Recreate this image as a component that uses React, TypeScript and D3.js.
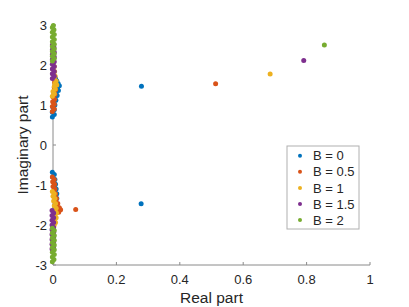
import * as d3 from "d3";

const seriesNames = ["B = 0", "B = 0.5", "B = 1", "B = 1.5", "B = 2"];
const seriesColors = ["#0072BD", "#D95319", "#EDB120", "#7E2F8E", "#77AC30"];

const b0: [number, number][] = [
  [-0.002, 0.7], [0.004, 0.76], [-0.002, 0.82], [0.004, 0.88], [0.0, 0.94], [0.006, 1.0],
  [0.003, 1.06], [0.009, 1.12], [0.006, 1.18], [0.013, 1.24], [0.01, 1.3], [0.017, 1.36],
  [0.014, 1.42], [0.02, 1.48], [0.016, 1.54], [0.012, 1.6], [0.008, 1.66],
  [0.279, 1.467],
  [-0.002, -0.68], [0.004, -0.74], [-0.001, -0.8], [0.006, -0.86], [0.002, -0.92], [0.008, -0.98],
  [0.004, -1.04], [0.01, -1.1], [0.006, -1.16], [0.012, -1.22], [0.008, -1.28], [0.012, -1.34],
  [0.007, -1.4], [0.01, -1.46], [0.005, -1.52], [0.008, -1.58],
  [0.278, -1.467],
];
const b05: [number, number][] = [
  [-0.002, 0.84], [0.004, 0.9], [-0.002, 0.96], [0.004, 1.02], [-0.001, 1.08], [0.005, 1.14],
  [0.0, 1.2], [0.006, 1.26], [0.002, 1.32], [0.008, 1.38], [0.004, 1.44], [0.009, 1.5], [0.005, 1.56],
  [0.513, 1.53],
  [-0.002, -0.8], [0.004, -0.86], [-0.001, -0.92], [0.005, -0.98], [0.0, -1.04], [0.006, -1.1],
  [0.002, -1.16], [0.008, -1.22], [0.005, -1.28], [0.011, -1.34], [0.008, -1.4], [0.015, -1.46],
  [0.012, -1.52], [0.02, -1.57], [0.024, -1.62], [0.018, -1.68],
  [0.0716, -1.614],
];
const b1: [number, number][] = [
  [-0.002, 1.22], [0.004, 1.28], [0.0, 1.34], [0.007, 1.4], [0.004, 1.46], [0.012, 1.5],
  [0.006, 1.54], [0.01, 1.6], [0.003, 1.66], [0.007, 1.72], [0.0, 1.78], [0.005, 1.84],
  [-0.001, 1.9], [0.004, 1.96],
  [0.685, 1.776],
  [-0.002, -1.16], [0.004, -1.22], [0.0, -1.28], [0.006, -1.34], [0.002, -1.4], [0.008, -1.46],
  [0.004, -1.52], [0.01, -1.58], [0.006, -1.64], [0.011, -1.7], [0.006, -1.76], [0.01, -1.82],
  [0.005, -1.88], [0.008, -1.94], [0.004, -2.0],
];
const b15: [number, number][] = [
  [-0.002, 1.66], [0.004, 1.72], [-0.002, 1.78], [0.004, 1.84], [-0.002, 1.9], [0.004, 1.96],
  [-0.002, 2.02], [0.004, 2.08], [-0.002, 2.14], [0.004, 2.2], [-0.002, 2.26], [0.004, 2.32],
  [-0.002, 2.38], [0.003, 2.44], [-0.002, 2.5],
  [0.791, 2.11],
  [-0.003, -1.64], [0.002, -1.7], [-0.003, -1.76], [0.002, -1.82], [-0.003, -1.88], [0.002, -1.94],
  [-0.003, -2.0], [0.002, -2.06], [-0.003, -2.12], [0.002, -2.18], [-0.003, -2.24], [0.002, -2.3],
  [-0.003, -2.36], [0.002, -2.42], [-0.003, -2.48], [0.002, -2.54], [-0.003, -2.6],
];
const b2: [number, number][] = [
  [-0.002, 2.1], [0.004, 2.16], [-0.002, 2.22], [0.004, 2.28], [-0.002, 2.34], [0.004, 2.4],
  [-0.002, 2.46], [0.004, 2.52], [-0.002, 2.58], [0.004, 2.64], [-0.002, 2.7], [0.004, 2.76],
  [-0.002, 2.82], [0.003, 2.88], [-0.002, 2.94], [0.001, 2.99],
  [0.856, 2.5],
  [-0.002, -2.08], [0.004, -2.14], [-0.002, -2.2], [0.004, -2.26], [-0.002, -2.32], [0.004, -2.38],
  [-0.002, -2.44], [0.004, -2.5], [-0.002, -2.56], [0.004, -2.62], [-0.002, -2.68], [0.004, -2.74],
  [-0.002, -2.8], [0.003, -2.86], [-0.002, -2.92],
];

const seriesData = [b0, b05, b1, b15, b2];
const xTicks = [0, 0.2, 0.4, 0.6, 0.8, 1];
const yTicks = [-3, -2, -1, 0, 1, 2, 3];

export default function App() {
  const width = 409;
  const height = 307;
  const margin = { top: 25, right: 39, bottom: 42, left: 53 };
  const innerW = width - margin.left - margin.right;
  const innerH = height - margin.top - margin.bottom;

  const x = d3.scaleLinear().domain([0, 1]).range([0, innerW]);
  const y = d3.scaleLinear().domain([-3, 3]).range([innerH, 0]);

  const font = "'Liberation Sans', Arial, sans-serif";
  const axisColor = "#8a8a8a";
  const textColor = "#262626";

  return (
    <svg
      width={width}
      height={height}
      style={{ position: "absolute", left: 0, top: 0, background: "#fff" }}
      fontFamily={font}
    >
      <g transform={`translate(${margin.left},${margin.top})`}>
        <line x1={0} x2={innerW} y1={innerH} y2={innerH} stroke={axisColor} strokeWidth={1} />
        <line x1={0} x2={0} y1={0} y2={innerH} stroke={axisColor} strokeWidth={1} />
        {xTicks.map((t) => (
          <g key={`x${t}`} transform={`translate(${x(t)},${innerH})`}>
            <line y2={-3} stroke={axisColor} />
            <text y={19} textAnchor="middle" fontSize={13} fill={textColor}>
              {d3.format("~g")(t)}
            </text>
          </g>
        ))}
        {yTicks.map((t) => (
          <g key={`y${t}`} transform={`translate(0,${y(t)})`}>
            <line x2={3} stroke={axisColor} />
            <text x={-6} dy="0.36em" textAnchor="end" fontSize={13} fill={textColor}>
              {t}
            </text>
          </g>
        ))}

        {seriesData.map((pts, si) => (
          <g key={si} fill={seriesColors[si]}>
            {pts.map(([re, im], i) => (
              <circle key={i} cx={x(re)} cy={y(im)} r={2.5} />
            ))}
          </g>
        ))}
      </g>

      <text
        x={margin.left + innerW / 2}
        y={303}
        textAnchor="middle"
        fontSize={15.5}
        fill={textColor}
      >
        Real part
      </text>
      <text
        transform={`translate(28,${margin.top + innerH / 2}) rotate(-90)`}
        textAnchor="middle"
        fontSize={15.5}
        fill={textColor}
      >
        Imaginary part
      </text>

      <g transform="translate(287,146)">
        <rect width={72} height={83} fill="#fff" stroke="#b0b0b0" strokeWidth={1} />
        {seriesNames.map((name, i) => (
          <g key={name} transform={`translate(0,${9.7 + i * 16.1})`}>
            <circle cx={13} cy={0} r={2} fill={seriesColors[i]} />
            <text x={26} dy="0.36em" fontSize={13} fill={textColor}>
              {name}
            </text>
          </g>
        ))}
      </g>
    </svg>
  );
}
